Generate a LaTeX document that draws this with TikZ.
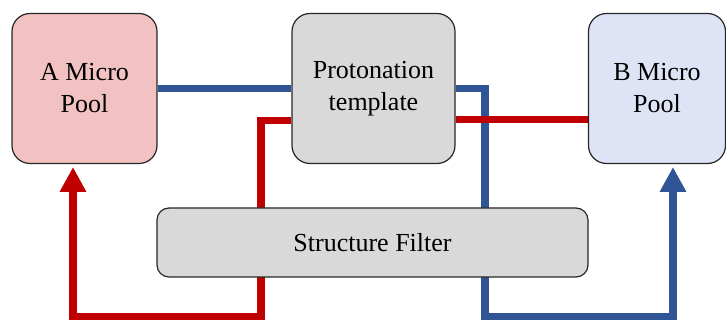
\documentclass[tikz,border=0pt]{standalone}
\usepackage{fontspec}
\setmainfont{Liberation Serif}
\usetikzlibrary{arrows.meta,backgrounds}

\definecolor{poolA}{RGB}{242,194,194}
\definecolor{poolB}{RGB}{222,228,245}
\definecolor{boxgray}{RGB}{217,217,217}
\definecolor{flowred}{RGB}{192,0,0}
\definecolor{flowblue}{RGB}{47,85,151}

\begin{document}
\begin{tikzpicture}[x=1pt,y=-1pt,
  box/.style={draw=black!85, line width=1.2pt, rounded corners=18pt,
    align=center, inner sep=0pt, font=\fontsize{26}{32}\selectfont},
  pool/.style={box, minimum height=150pt},
  flow/.style={line width=7.5pt},
  redflow/.style={flow, draw=flowred},
  blueflow/.style={flow, draw=flowblue},
  head/.style={-{Triangle[width=25pt,length=25pt]}}
]
\useasboundingbox (0,0) rectangle (726,320);

% boxes
\node[pool, fill=poolA, minimum width=145pt] (A) at (84.5,88.5) {A Micro\\Pool};
\node[pool, fill=boxgray, minimum width=163pt] (P) at (373.5,88.5) {Protonation\\template};
\node[pool, fill=poolB, minimum width=137pt] (B) at (657,88.5) {B Micro\\Pool};
\node[box, rounded corners=12pt, fill=boxgray, minimum width=431pt, minimum height=69pt]
  (F) at (372.5,242.5) {Structure Filter};

% turning points and arrow targets
\coordinate (bturn) at (485,317);
\coordinate (bin)   at (673,167);
\coordinate (rturn) at (261,317);
\coordinate (ain)   at (73,167);

% flows run behind the filter box
\begin{scope}[on background layer]
  \draw[blueflow] (A.east) -- (A.east -| P.west);
  \draw[blueflow, head] (P.east) -| (bturn) -| (bin);
  \draw[redflow, head] ([yshift=-32pt]P.west) -| (rturn) -| (ain);
  \draw[redflow] ([yshift=-31pt]P.east) -- ([yshift=-31pt]P.east -| B.west);
\end{scope}
\end{tikzpicture}
\end{document}
